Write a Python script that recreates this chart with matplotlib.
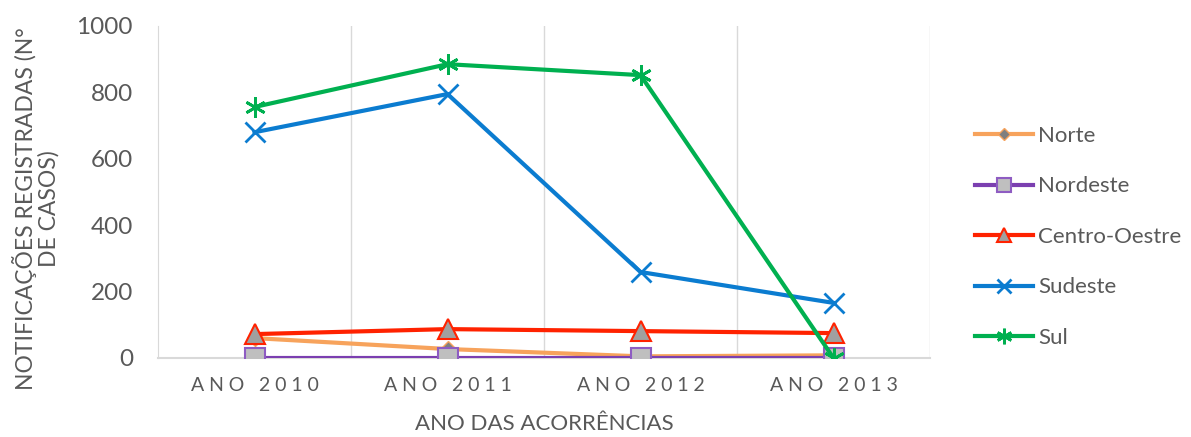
import matplotlib
matplotlib.use("Agg")
import matplotlib.pyplot as plt

categories = ["ANO 2010", "ANO 2011", "ANO 2012", "ANO 2013"]
norte = [60, 27, 5, 8]
nordeste = [0, 0, 0, 0]
centro_oeste = [72, 87, 81, 75]
sudeste = [680, 795, 259, 166]
sul = [756, 885, 852, 0]

plt.rcParams['font.family'] = ['Lato', 'DejaVu Sans']
TXT = '#595959'

fig = plt.figure(figsize=(11.91, 4.37), dpi=100)
ax = fig.add_axes([158/1191, 1-358/437, (930-158)/1191, (358-26)/437])

x = list(range(len(categories)))
lw = 3.0
ax.plot(x, norte, color='#F7A35C', lw=lw, marker='D', ms=8, mfc='#7F7F7F', mec='#F7A35C', mew=1, label='Norte', zorder=3)
ax.plot(x, nordeste, color='#7B3FB0', lw=lw, marker='s', ms=14, mfc='#BFBFBF', mec='#8E5CC2', mew=1.5, label='Nordeste', zorder=4)
ax.plot(x, centro_oeste, color='#FF2200', lw=lw, marker='^', ms=14, mfc='#A0A0A0', mec='#FF2200', mew=1.5, label='Centro-Oestre', zorder=5)
ax.plot(x, sudeste, color='#0B7CD0', lw=lw, marker='x', ms=14, mew=2, label='Sudeste', zorder=6)
ax.plot(x, sul, color='#00B050', lw=lw, marker=(6, 2, 0), ms=15, mew=2, label='Sul', zorder=7)

ax.set_xlim(-0.5, 3.5)
ax.set_ylim(0, 1000)
ax.set_yticks([0, 200, 400, 600, 800, 1000])
ax.set_xticks(x)
spaced = ['\u2005'.join(c) for c in categories]
ax.set_xticklabels(spaced, fontsize=14, color=TXT)
ax.tick_params(axis='y', labelsize=17.5, colors=TXT, length=0, pad=18)
ax.tick_params(axis='x', length=0, pad=14, colors=TXT)

for b in [0.5, 1.5, 2.5, 3.5]:
    ax.axvline(b, color='#D9D9D9', lw=1, zorder=1)

for s in ['top', 'right']:
    ax.spines[s].set_visible(False)
ax.spines['left'].set_color('#D9D9D9')
ax.spines['bottom'].set_color('#D9D9D9')
ax.spines['bottom'].set_linewidth(1.5)

ax.set_xlabel('ANO DAS ACORRÊNCIAS', fontsize=16, color=TXT, labelpad=14)
ax.set_ylabel('NOTIFICAÇÕES REGISTRADAS (N°\nDE CASOS)', fontsize=16.5, color=TXT, linespacing=1.05)
ax.yaxis.set_label_coords(-0.128, 0.45)

leg = fig.legend(loc='upper left', bbox_to_anchor=(955/1191, 1-106/437), frameon=False,
                 fontsize=16, labelcolor=TXT, handlelength=2.6, labelspacing=1.37, handletextpad=0.25,
                 markerscale=0.75)

fig.savefig('out.png', dpi=100)
